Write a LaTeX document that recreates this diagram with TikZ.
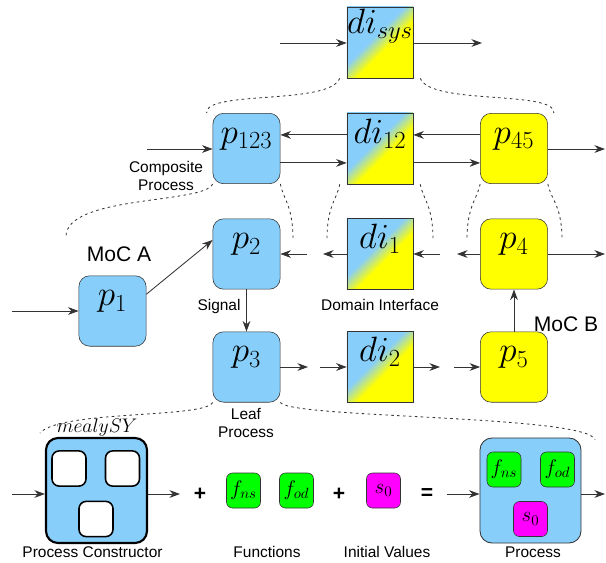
\RequirePackage{fix-cm}
\documentclass[tikz,border=0pt]{standalone}
\usepackage[no-math]{fontspec}
\newfontfamily\lblfont{Liberation Sans}
\usepackage{tikz}
\usetikzlibrary{arrows.meta,calc}
\definecolor{lblue}{HTML}{87CEFA}
\definecolor{pyellow}{HTML}{FFFF00}
\definecolor{fgreen}{HTML}{00FF00}
\definecolor{smag}{HTML}{FF00FF}
\definecolor{edge}{HTML}{333333}
\pgfdeclarehorizontalshading{diblend}{100bp}{color(0bp)=(lblue); color(44bp)=(lblue); color(56bp)=(pyellow); color(100bp)=(pyellow)}
\newcommand{\pfont}{\fontsize{25}{28}\selectfont}
\newcommand{\fnfont}{\fontsize{15}{17}\selectfont}
\newcommand{\lblsmall}{\lblfont\fontsize{11}{13}\selectfont}
\newcommand{\lblbig}{\lblfont\fontsize{15}{17}\selectfont}
\tikzset{
  proc/.style={draw=edge,fill=lblue,rounded corners=0.27cm,minimum width=1.68cm,minimum height=1.76cm,
    inner sep=0pt,text height=0.75cm,text depth=1.01cm,font=\pfont},
  yproc/.style={proc,fill=pyellow},
  dibox/.style={draw=edge,shade,shading=diblend,shading angle=-45,minimum width=1.65cm,minimum height=1.775cm,
    inner sep=0pt,text height=0.75cm,text depth=1.025cm,font=\pfont},
  sig/.style={draw=edge,line width=0.6pt,-{Stealth[length=7.5pt,width=5.5pt,inset=2.4pt]}},
  zoomln/.style={draw=black!80,line width=0.6pt,dash pattern=on 1.8pt off 2.4pt},
  ctorbox/.style={draw=black,fill=lblue,rounded corners=0.3cm,minimum width=2.525cm,minimum height=2.625cm,inner sep=0pt},
  hole/.style={draw=black,fill=white,line width=1.1pt,rounded corners=0.18cm,minimum width=0.85cm,minimum height=0.88cm,inner sep=0pt},
  fnbox/.style={draw=edge,fill=fgreen,rounded corners=0.15cm,minimum width=0.85cm,minimum height=0.875cm,inner sep=0pt,font=\fnfont},
  initbox/.style={fnbox,fill=smag},
  txt/.style={font=\lblsmall,align=center,inner sep=0pt},
  optext/.style={font=\lblbig\bfseries,inner sep=0pt}
}

\begin{document}
\begin{tikzpicture}[x=0.025cm,y=-0.025cm]
\useasboundingbox (0,0) rectangle (606,562);
% system level
\node[dibox,text height=0.65cm,text depth=1.125cm] (disys) at (380,42.5) {$di_{sys}$};
\coordinate (sysin) at (280,43);
\coordinate (sysout) at (482,43);
\draw[sig] (sysin) -- (sysin -| disys.west);
\draw[sig] (disys.east |- sysout) -- (sysout);
% composite level
\node[proc] (p123) at (246.5,148.5) {$p_{123}$};
\node[dibox] (di12) at (380,148.5) {$di_{12}$};
\node[yproc] (p45) at (514,148.5) {$p_{45}$};
\draw[sig] ([yshift=0.34cm]di12.west) -- ([yshift=0.34cm]p123.east);
\draw[sig] ([yshift=0.34cm]p45.west) -- ([yshift=0.34cm]di12.east);
\draw[sig] ([yshift=-0.36cm]p123.east) -- ([yshift=-0.36cm]di12.west);
\draw[sig] ([yshift=-0.36cm]di12.east) -- ([yshift=-0.36cm]p45.west);
\coordinate (cin) at (147,149);
\coordinate (cout) at (605,149);
\draw[sig] (cin) -- (cin -| p123.west);
\draw[sig] (p45.east |- cout) -- (cout);
\node[txt] (comp) at (166,176) {Composite\\Process};
% leaf level
\node[proc] (p1) at (112.5,311) {$p_1$};
\node[proc] (p2) at (246.5,254) {$p_2$};
\node[proc] (p3) at (246.5,367) {$p_3$};
\node[dibox] (di1) at (380,254) {$di_1$};
\node[dibox] (di2) at (380,367) {$di_2$};
\node[yproc] (p4) at (514,254) {$p_4$};
\node[yproc] (p5) at (514,367) {$p_5$};
\coordinate (p1in) at (12,311);
\coordinate (p4out) at (605,254);
\coordinate (sa) at (307,254);
\coordinate (sb) at (323,254);
\coordinate (sc) at (440,254);
\coordinate (sd) at (457,254);
\coordinate (ta) at (308,367);
\coordinate (tb) at (320,367);
\coordinate (tc) at (440,367);
\coordinate (td) at (454,367);
\draw[sig] (p1in) -- (p1.west);
\draw[sig] ([yshift=0.42cm]p1.east) -- ([yshift=0.35cm]p2.west);
\draw[sig] (p2) -- (p3);
\draw[sig] (di1.west) -- (sb);
\draw[sig] (sa) -- (p2.east);
\draw[sig] (p4.west) -- (sd);
\draw[sig] (sc) -- (di1.east);
\draw[sig] (p4.east) -- (p4out);
\draw[sig] (p5) -- (p4);
\draw[sig] (p3.east) -- (ta);
\draw[sig] (tb) -- (di2.west);
\draw[sig] (di2.east) -- (tc);
\draw[sig] (td) -- (p5.west);
\node[font=\lblbig,inner sep=0pt] (moca) at (119,254) {MoC A};
\node[font=\lblbig,inner sep=0pt] (mocb) at (566,324) {MoC B};
\node[txt] (signal) at (219,306) {Signal};
\node[txt] (domif) at (380,305) {Domain Interface};
\node[txt] (leaf) at (246,423) {Leaf\\Process};
% zoom lines
\coordinate (za) at (66,237);
\coordinate (zb) at (293,240);
\coordinate (zc) at (327,240);
\coordinate (zd) at (433,240);
\coordinate (ze) at (467,240);
\coordinate (zf) at (562,240);
\coordinate (zg) at (40,433);
\coordinate (zh) at (595,440);
\draw[zoomln] ($(disys.south west)+(-7,0)$) .. controls +(-10,27) and +(-2,-23) .. ($(p123.north west)+(-6,0)$);
\draw[zoomln] ($(disys.south east)+(7,0)$) .. controls +(10,27) and +(2,-23) .. ($(p45.north east)+(6,0)$);
\draw[zoomln] (p123.south west) .. controls +(-8,20) and +(-1,-42) .. (za);
\draw[zoomln] (p123.south east) .. controls +(3,16) and +(0,-35) .. (zb);
\draw[zoomln] ($(di12.south west)+(-7,0)$) .. controls +(-3,16) and +(0,-35) .. (zc);
\draw[zoomln] ($(di12.south east)+(7,0)$) .. controls +(3,16) and +(0,-35) .. (zd);
\draw[zoomln] (p45.south west) .. controls +(-3,16) and +(0,-35) .. (ze);
\draw[zoomln] (p45.south east) .. controls +(3,16) and +(0,-35) .. (zf);
\draw[zoomln] (p3.south west) .. controls +(-8,16) and +(20,-23) .. (zg);
\draw[zoomln] (p3.south east) .. controls +(10,16) and +(-5,-25) .. (zh);
% process constructor
\node[ctorbox,line width=1.5pt] (pc) at (96.5,490.5) {};
\node[hole] (pca) at (69,468.5) {};
\node[hole] (pcb) at (122.5,468.5) {};
\node[hole] (pcc) at (96,519) {};
\node[font=\fontsize{14}{16}\selectfont,inner sep=0pt] (pcname) at (97,428) {$mealySY$};
\coordinate (pcin) at (12,494);
\coordinate (pcout) at (180,494);
\draw[sig] (pcin) -- (pcin -| pc.west);
\draw[sig] (pc.east |- pcout) -- (pcout);
\node[optext] (plusa) at (200,494) {+};
\node[fnbox] (fns) at (243.5,490.5) {$f_{ns}$};
\node[fnbox] (fod) at (296.5,490.5) {$f_{od}$};
\node[optext] (plusb) at (339,494) {+};
\node[initbox] (s0) at (383.5,490.5) {$s_0$};
\node[optext] (eq) at (427,494) {=};
% resulting process
\node[ctorbox,draw=edge,line width=0.6pt] (proc) at (530.5,490.5) {};
\node[fnbox] (fnsb) at (504,469.5) {$f_{ns}$};
\node[fnbox] (fodb) at (557.5,469.5) {$f_{od}$};
\node[initbox] (s0b) at (530.5,519) {$s_0$};
\coordinate (procin) at (447,494);
\coordinate (procout) at (605,494);
\draw[sig] (procin) -- (procin -| proc.west);
\draw[sig] (proc.east |- procout) -- (procout);
\node[txt] (pclbl) at (92.5,552) {Process Constructor};
\node[txt] (fnlbl) at (267,552) {Functions};
\node[txt] (ivlbl) at (387,552) {Initial Values};
\node[txt] (plbl) at (533,552) {Process};
\end{tikzpicture}
\end{document}
